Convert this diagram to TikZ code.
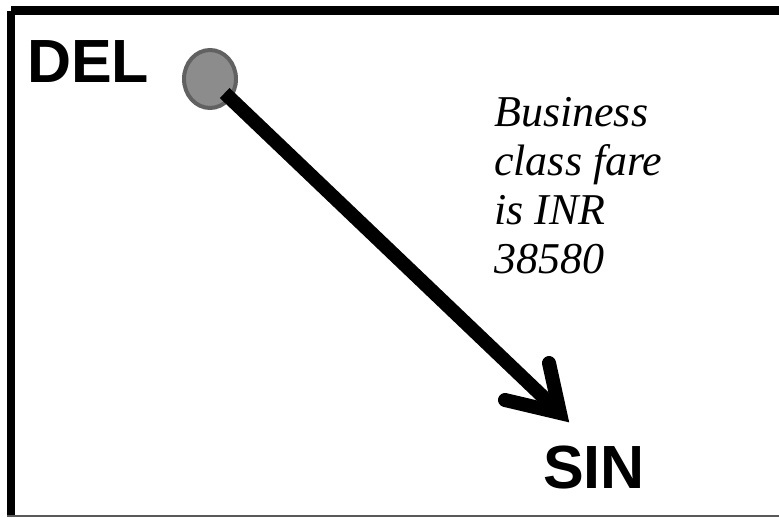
\documentclass[tikz,border=0pt]{standalone}
\usepackage{fontspec}
\setmainfont{Liberation Serif}
\newfontfamily\labelsans{Liberation Sans}
\usetikzlibrary{shapes.geometric}
\begin{document}
\begin{tikzpicture}[x=1pt,y=-1pt,
  city/.style={font=\labelsans\bfseries\fontsize{61}{61}\selectfont, inner sep=0pt, anchor=base west},
  fare/.style={font=\itshape\fontsize{44}{49}\selectfont, align=left, inner sep=0pt, anchor=north west},
  airport/.style={ellipse, draw=black!62, line width=4pt, fill=black!45, minimum width=52pt, minimum height=58pt, inner sep=0pt},
  flight/.style={line width=14pt, black},
  frameline/.style={line width=8.5pt, black}
]
\useasboundingbox (0,0) rectangle (779,517);
% frame
\coordinate (tl) at (11,10.5);
\coordinate (tr) at (779,10.5);
\coordinate (bl) at (11,517);
\draw[frameline] (tl) -- (tr);
\draw[frameline] (tl) -- (bl);
\coordinate (bl2) at (7,515.5);
\coordinate (br2) at (779,515.5);
\draw[line width=2pt, black!65] (bl2) -- (br2);
% labels
\node[city] (del) at (27,82) {DEL};
\node[city] (sin) at (543,488) {SIN};
\node[fare] (note) at (494,97) {Business\\class fare\\is INR\\38580};
% airport dot
\node[airport] (dot) at (210,79) {};
% flight arrow
\coordinate (tip) at (560,413);
\coordinate (barbA) at (549,363);
\coordinate (barbB) at (505,400);
\draw[flight, shorten <=-9pt] (dot) -- (tip);
\draw[flight, line join=miter, line cap=round] (barbA) -- (tip) -- (barbB);
\end{tikzpicture}
\end{document}
